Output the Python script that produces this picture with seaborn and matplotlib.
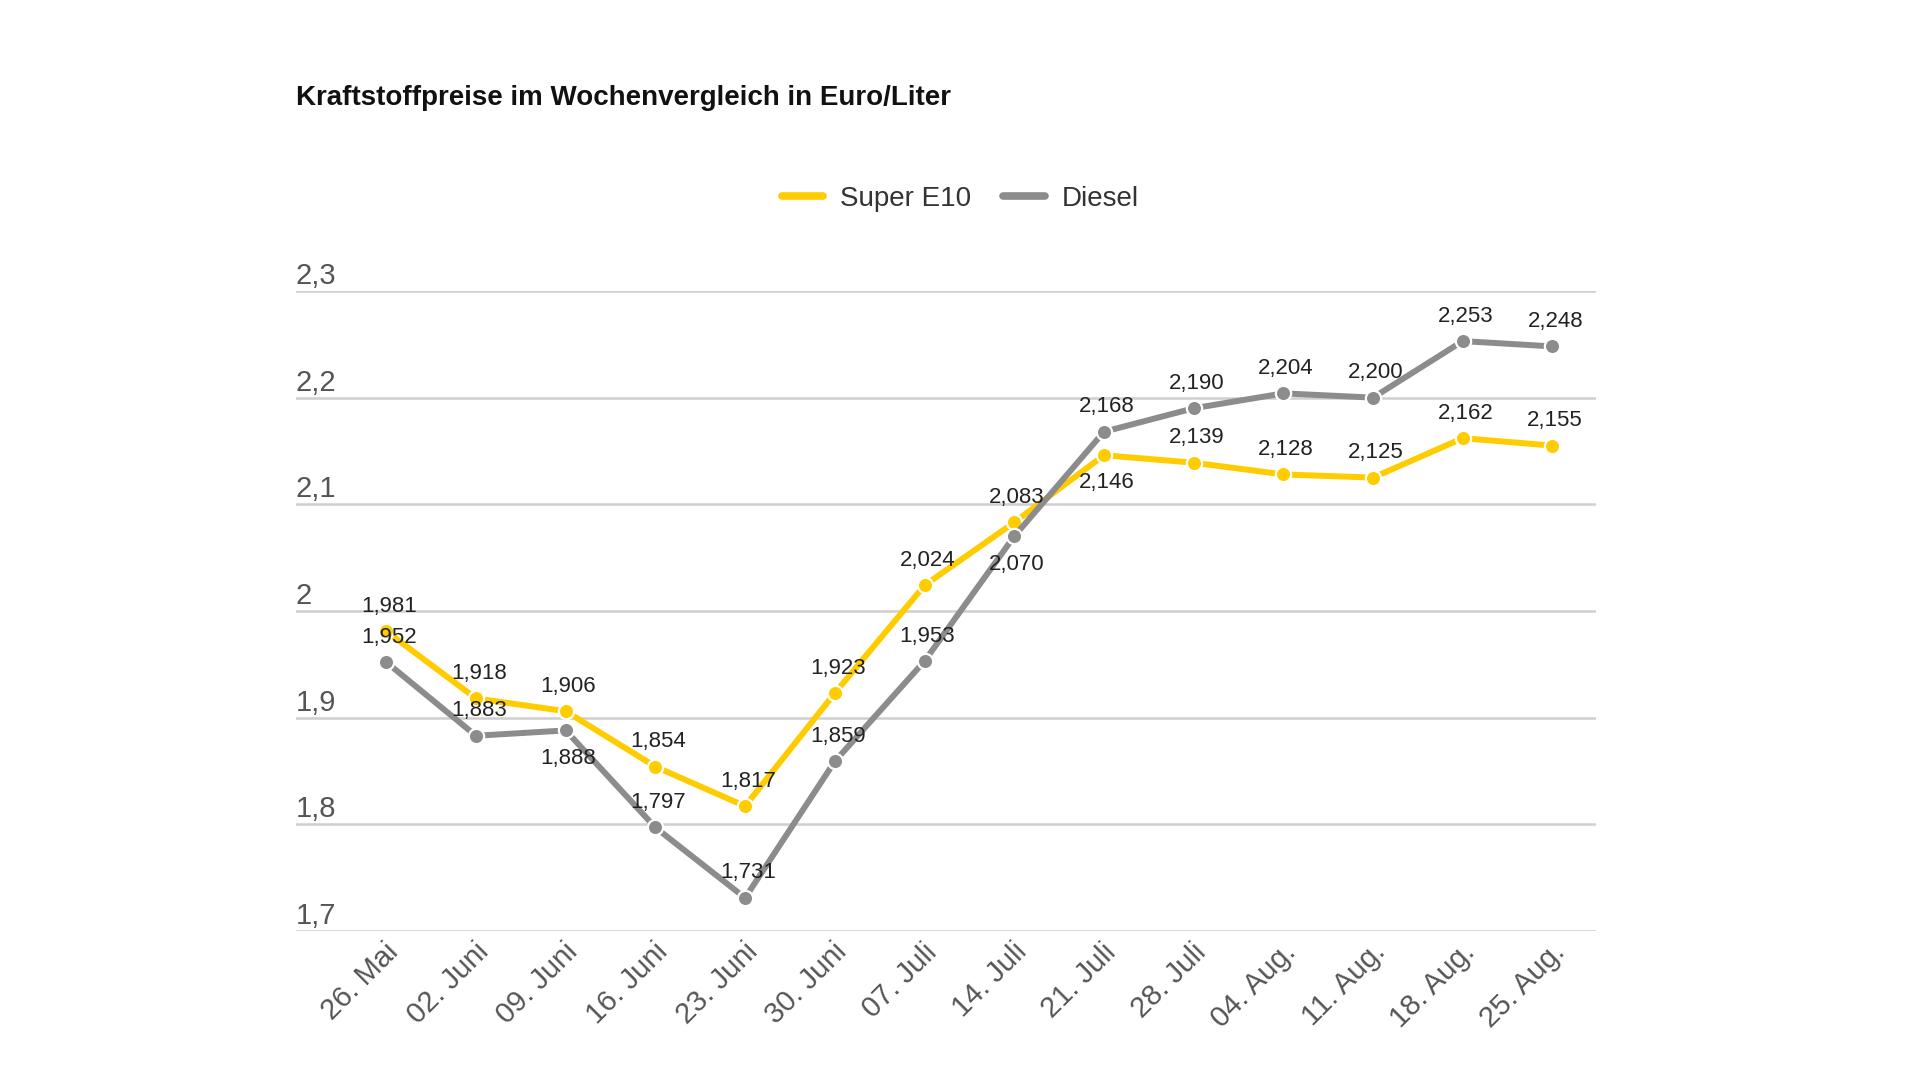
import matplotlib
matplotlib.use("Agg")
import matplotlib.pyplot as plt
import matplotlib.transforms as mtransforms
from matplotlib.lines import Line2D
import seaborn as sns
import pandas as pd

# ---- data ----
dates = ["26. Mai", "02. Juni", "09. Juni", "16. Juni", "23. Juni", "30. Juni", "07. Juli",
         "14. Juli", "21. Juli", "28. Juli", "04. Aug.", "11. Aug.", "18. Aug.", "25. Aug."]
super_e10 = [1.981, 1.918, 1.906, 1.854, 1.817, 1.923, 2.024, 2.083, 2.146, 2.139, 2.128, 2.125, 2.162, 2.155]
diesel = [1.952, 1.883, 1.888, 1.797, 1.731, 1.859, 1.953, 2.070, 2.168, 2.190, 2.204, 2.200, 2.253, 2.248]
# label position: 1 = above, -1 = below
e10_pos = [1, 1, 1, 1, 1, 1, 1, 1, -1, 1, 1, 1, 1, 1]
diesel_pos = [1, 1, -1, 1, 1, 1, 1, -1, 1, 1, 1, 1, 1, 1]
y_ticks = [1.7, 1.8, 1.9, 2.0, 2.1, 2.2, 2.3]
y_tick_labels = ["1,7", "1,8", "1,9", "2", "2,1", "2,2", "2,3"]
title = "Kraftstoffpreise im Wochenvergleich in Euro/Liter"
series_names = ["Super E10", "Diesel"]

YELLOW = "#FFCC00"
GRAY = "#8C8C8C"

sns.set_style("white")
plt.rcParams["font.family"] = ["Liberation Sans", "DejaVu Sans"]

fig = plt.figure(figsize=(19.2, 10.8), dpi=100)
ax = fig.add_axes([0.154, 0.138, 0.677, 0.5926])

df_e10 = pd.DataFrame({"Datum": dates, "Preis": super_e10})
df_d = pd.DataFrame({"Datum": dates, "Preis": diesel})

common = dict(x="Datum", y="Preis", ax=ax, linewidth=4.3, marker="o", markersize=11,
              markeredgecolor="white", markeredgewidth=1.6, sort=False)
sns.lineplot(data=df_e10, color=YELLOW, zorder=3, **common)
sns.lineplot(data=df_d, color=GRAY, zorder=4, **common)

ax.set_ylim(1.7, 2.3)
ax.set_xlim(-1.01, 13.48)
ax.set_yticks(y_ticks)
ax.yaxis.grid(True, color="#CFCFCF", linewidth=1.8)
ax.xaxis.grid(False)
ax.set_axisbelow(True)
for s in ax.spines.values():
    s.set_visible(False)
ax.set_xlabel("")
ax.set_ylabel("")
ax.tick_params(axis="y", left=False, labelleft=False)
ax.tick_params(axis="x", bottom=False, length=0, pad=12)

# y tick labels above the gridlines
ytrans = mtransforms.blended_transform_factory(ax.transAxes, ax.transData)
for v, lab in zip(y_ticks, y_tick_labels):
    ax.annotate(lab, xy=(0, v), xycoords=ytrans, xytext=(0, 5), textcoords="offset points",
                ha="left", va="baseline", fontsize=21, color="#555555", clip_on=False)

# x tick labels rotated
ax.set_xticks(range(len(dates)))
ax.set_xticklabels(dates, rotation=45, ha="right", va="center", rotation_mode="anchor",
                   fontsize=21, color="#555555")
offset = mtransforms.ScaledTranslation(8 / 100, 0, fig.dpi_scale_trans)
for lbl in ax.get_xticklabels():
    lbl.set_transform(lbl.get_transform() + offset)

# data labels
def fmt(v):
    return f"{v:.3f}".replace(".", ",")

for i, (v, p) in enumerate(zip(super_e10, e10_pos)):
    ax.annotate(fmt(v), xy=(i, v), xytext=(2, 18 if p > 0 else -20), textcoords="offset points",
                ha="center", va="center", fontsize=16, color="#222222", zorder=6)
for i, (v, p) in enumerate(zip(diesel, diesel_pos)):
    ax.annotate(fmt(v), xy=(i, v), xytext=(2, 18 if p > 0 else -20), textcoords="offset points",
                ha="center", va="center", fontsize=16, color="#222222", zorder=6)

# title
fig.text(0.154, 0.909, title, ha="left", va="center", fontsize=20, fontweight="bold", color="#111111")

# legend
handles = [Line2D([0], [0], color=YELLOW, lw=5.5),
           Line2D([0], [0], color=GRAY, lw=5.5)]
fig.legend(handles, series_names, loc="center", bbox_to_anchor=(0.5, 1 - 199 / 1080), ncol=2,
           frameon=False, fontsize=20, handlelength=1.5, columnspacing=1.15, handletextpad=0.6,
           labelcolor="#333333")

fig.savefig("out.png", dpi=100, facecolor="white")
